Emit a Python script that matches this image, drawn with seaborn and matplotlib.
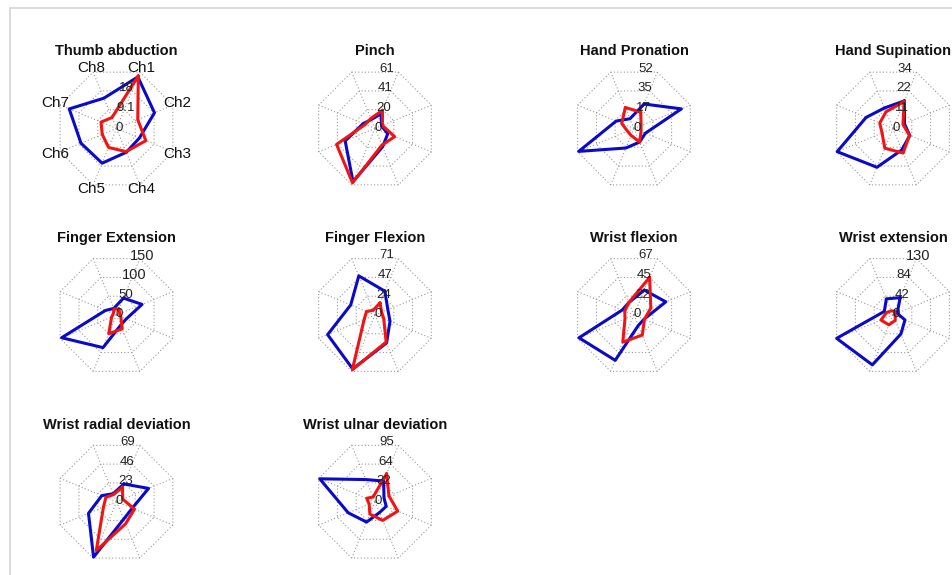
import numpy as np
import pandas as pd
import matplotlib
matplotlib.use("Agg")
import matplotlib.pyplot as plt
from matplotlib.lines import Line2D
import seaborn as sns

# ---------------- data ----------------
channels = ["Ch1", "Ch2", "Ch3", "Ch4", "Ch5", "Ch6", "Ch7", "Ch8"]
titles = ["Thumb abduction", "Pinch", "Hand Pronation", "Hand Supination",
          "Finger Extension", "Finger Flexion", "Wrist flexion", "Wrist extension",
          "Wrist radial deviation", "Wrist ulnar deviation"]

thumb_blue = [25.0, 18.4, 11.1, 11.5, 16.8, 17.2, 22.9, 14.7]
thumb_red = [25.5, 10.3, 14.2, 11.2, 9.2, 6.9, 7.5, 5.3]
pinch_blue = [16.0, 7.0, 13.8, 19.8, 57.5, 32.3, 12.8, 9.7]
pinch_red = [19.7, 8.0, 21.3, 18.0, 58.8, 41.6, 10.6, 10.9]
pron_blue = [22.6, 43.7, 10.5, 12.5, 18.0, 51.0, 16.5, 9.0]
pron_red = [15.1, 6.5, 6.5, 12.5, 6.4, 6.0, 11.3, 19.4]
sup_blue = [16.7, 6.9, 10.1, 12.9, 23.4, 33.7, 16.2, 12.4]
sup_red = [16.3, 6.0, 9.9, 14.8, 11.9, 6.6, 8.0, 10.1]
fext_blue = [45.0, 68.0, 25.7, 27.0, 86.8, 146.0, 29.4, 17.5]
fext_red = [16.0, 8.5, 11.5, 36.7, 49.7, 13.0, 8.5, 16.0]
fflex_blue = [30.0, 16.2, 18.9, 35.2, 67.9, 59.7, 30.6, 49.3]
fflex_red = [15.2, 8.4, 11.0, 34.0, 69.0, 13.7, 10.7, 5.9]
wflex_blue = [29.6, 37.8, 12.0, 12.4, 53.9, 65.4, 14.1, 14.8]
wflex_red = [44.8, 20.0, 12.4, 23.8, 32.2, 10.7, 11.0, 14.8]
wext_blue = [38.8, 9.3, 26.8, 42.5, 111.5, 126.0, 19.4, 36.1]
wext_red = [8.5, 4.6, 5.0, 12.0, 22.0, 27.0, 14.0, 9.4]
wrad_blue = [21.7, 39.3, 19.2, 21.3, 67.8, 34.3, 18.0, 9.8]
wrad_red = [17.8, 7.6, 22.0, 27.0, 59.7, 16.0, 13.0, 8.7]
wuln_blue = [35.0, 15.3, 19.0, 18.4, 34.5, 45.4, 93.7, 37.5]
wuln_red = [47.3, 23.6, 38.5, 31.7, 21.0, 9.9, 14.1, 7.9]

scale_max = [27.3, 61, 52, 34, 150, 71, 67, 126, 69, 95.5]
tick_labels = [["0", "9.1", "18", ""], ["0", "20", "41", "61"], ["0", "17", "35", "52"],
               ["0", "11", "22", "34"], ["0", "50", "100", "150"], ["0", "24", "47", "71"],
               ["0", "22", "45", "67"], ["0", "42", "84", "130"], ["0", "23", "46", "69"],
               ["0", "32", "64", "95"]]

blues = [thumb_blue, pinch_blue, pron_blue, sup_blue, fext_blue, fflex_blue,
         wflex_blue, wext_blue, wrad_blue, wuln_blue]
reds = [thumb_red, pinch_red, pron_red, sup_red, fext_red, fflex_red,
        wflex_red, wext_red, wrad_red, wuln_red]

# ---------------- style / layout ----------------
sns.set_theme(style="white")
plt.rcParams["font.family"] = ["Liberation Sans", "DejaVu Sans"]

FW, FH = 953, 575
fig = plt.figure(figsize=(FW / 100, FH / 100), dpi=100)
fig.patch.set_facecolor("white")

col_x = [116.5, 375, 634, 893]
row_y = [128.5, 315, 501.7]
R_PX = 61.0
W_PX = 85.0
lim = W_PX / R_PX

ang = np.deg2rad(67.5 - 45 * np.arange(8))
ux, uy = np.cos(ang), np.sin(ang)

BLUE = "#0a0ac8"
RED = "#f01414"
GRID = "#9a9a9a"

for i, title in enumerate(titles):
    r, c = divmod(i, 4)
    cx, cy = col_x[c], row_y[r]
    ax = fig.add_axes([(cx - W_PX) / FW, 1 - (cy + W_PX) / FH, 2 * W_PX / FW, 2 * W_PX / FH])
    ax.set_xlim(-lim, lim)
    ax.set_ylim(-lim, lim)
    ax.axis("off")

    # grid rings and spokes
    for k in (1, 2, 3):
        f = k / 3
        ax.plot(np.append(ux, ux[0]) * f, np.append(uy, uy[0]) * f, ls=(0, (1, 2)),
                color=GRID, lw=0.8, zorder=1, clip_on=False)
    for j in range(8):
        ax.plot([0, ux[j]], [0, uy[j]], ls=(0, (1, 2)), color=GRID, lw=0.8, zorder=1,
                clip_on=False)

    m = scale_max[i]
    for vals, col in ((blues[i], BLUE), (reds[i], RED)):
        v = np.asarray(vals) / m
        df = pd.DataFrame({"x": np.append(v * ux, v[0] * ux[0]),
                           "y": np.append(v * uy, v[0] * uy[0])})
        sns.lineplot(data=df, x="x", y="y", sort=False, estimator=None, color=col,
                     lw=2.2, ax=ax, zorder=3, clip_on=False)
    ax.set_xlabel("")
    ax.set_ylabel("")

    # value labels
    for k, lab in enumerate(tick_labels[i]):
        if not lab:
            continue
        big = len(lab) >= 3 and "." not in lab
        if k == 0:
            x, y = 0.05, 0.01
        elif big:
            x, y = 0.383 * k / 3 + 0.03, k / 3 * 0.96 + 0.01
        else:
            x, y = 0.13 + 0.02 * k, k / 3 * 0.97 + 0.01
        ax.text(x, y, lab, ha="center", va="center", fontsize=10.5 if big else 9.5,
                color="#222222", zorder=4, clip_on=False)

    ax.text(0, 77 / R_PX, title, ha="center", va="center", fontsize=10.5,
            fontweight="bold", color="#111111", clip_on=False)

    if i == 0:
        for j, ch in enumerate(channels):
            ax.text(1.08 * ux[j], 1.08 * uy[j], ch, ha="center", va="center",
                    fontsize=11, color="#111111", zorder=5, clip_on=False)

# frame lines on left and top
fig.add_artist(Line2D([10 / FW, 10 / FW], [0, 1 - 8 / FH], transform=fig.transFigure,
                      color="#d4d4d4", lw=1.2))
fig.add_artist(Line2D([10 / FW, 1], [1 - 8 / FH, 1 - 8 / FH], transform=fig.transFigure,
                      color="#d4d4d4", lw=1.2))

fig.savefig("out.png", dpi=100, facecolor="white")
